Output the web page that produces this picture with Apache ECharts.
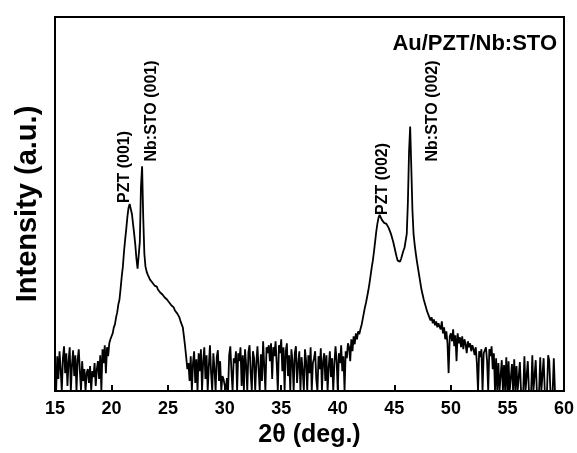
<!DOCTYPE html>
<html>
<head>
<meta charset="utf-8">
<script src="https://cdn.jsdelivr.net/npm/echarts@6/dist/echarts.min.js"></script>
<style>
  html, body { margin: 0; padding: 0; background: #fff; }
  #chart { width: 577px; height: 453px; }
</style>
</head>
<body>
<div id="chart"></div>
<script>
// scan grid: 2theta from 15.0 deg, 0.1 deg per step
const scanStart = 15.0;
const scanStep = 0.1;

// intensity (a.u.), one value per step
const noise15to20 = [
  28, 0, 35, 12, 40, 22, 0, 33, 45, 18,
  38, 5, 30, 44, 0, 26, 41, 15, 36, 0,
  31, 42, 20, 0, 30, 10, 22, 0, 18, 22,
  8, 25, 0, 20, 14, 28, 5, 22, 30, 12,
  36, 0, 42, 28, 46, 18, 44, 35, 48, 52
];
const peaks001 = [
  55, 58, 64, 67, 74, 79, 87, 92, 103, 115,
  125, 140, 152, 163, 175, 184, 188, 186, 178, 168,
  158, 147, 133, 123, 121, 150, 205, 226, 175, 138,
  125, 120, 117, 115, 112, 114, 109, 111, 106, 108,
  105, 102, 104, 99, 101, 97, 99, 94, 96, 92,
  94, 89, 91, 86, 88, 84, 81, 83, 78, 79,
  74, 70, 68, 64, 55, 45, 34, 22, 28, 10
];
const noise27to41 = [
  35, 0, 28, 40, 8, 32, 0, 38, 20, 42,
  0, 30, 44, 12, 36, 0, 25, 46, 18, 0,
  38, 22, 0, 34, 41, 10, 30, 0, 15, 12,
  14, 0, 13, 0, 36, 45, 20, 0, 33, 28,
  40, 0, 38, 30, 44, 5, 36, 0, 42, 26,
  0, 39, 46, 18, 0, 40, 33, 0, 28, 45,
  22, 0, 37, 10, 50, 25, 0, 44, 38, 46,
  30, 48, 12, 44, 35, 50, 28, 0, 46, 38,
  52, 20, 44, 0, 40, 48, 15, 36, 0, 42,
  30, 0, 38, 45, 8, 27, 40, 0, 34, 20,
  0, 42, 30, 0, 36, 18, 44, 0, 28, 33,
  40, 12, 0, 35, 22, 43, 0, 30, 38, 10,
  36, 0, 24, 40, 14, 33, 0, 27, 45, 30,
  0, 38, 28, 46, 20, 35, 0, 40, 33, 48
];
const peaks002 = [
  44, 30, 52, 40, 55, 47, 58, 52, 60, 57,
  62, 66, 72, 78, 84, 89, 95, 101, 108, 116,
  124, 131, 140, 150, 160, 168, 174, 177, 175, 172,
  170, 169, 168, 168, 166, 164, 161, 158, 154, 150,
  145, 140, 135, 131, 129, 130, 133, 137, 141, 144,
  146, 158, 190, 240, 266, 225, 182, 158, 147, 138,
  130, 123, 116, 109, 102, 97, 92, 88, 84, 80,
  77, 74, 71, 74, 68, 72, 66, 70, 64, 68
];
const tail49to59 = [
  68, 62, 70, 58, 64, 52, 60, 48, 18, 55,
  58, 50, 62, 45, 56, 30, 58, 48, 54, 44,
  55, 42, 52, 47, 38, 50, 44, 48, 40, 46,
  42, 36, 44, 28, 0, 40, 34, 42, 0, 38,
  40, 44, 30, 0, 42, 35, 45, 22, 38, 0,
  33, 0, 28, 0, 0, 31, 0, 26, 0, 34,
  0, 30, 0, 0, 27, 0, 32, 0, 25, 0,
  0, 29, 0, 0, 0, 35, 0, 0, 30, 0,
  0, 0, 36, 0, 0, 31, 0, 0, 0, 34,
  0, 0, 33, 0, 0, 0, 36, 30, 0, 0,
  0, 33, 0, 0
];

const peakLabels = ['PZT (001)', 'Nb:STO (001)', 'PZT (002)', 'Nb:STO (002)'];
const sampleName = 'Au/PZT/Nb:STO';

const intensity = [].concat(noise15to20, peaks001, noise27to41, peaks002, tail49to59);
const xrd = intensity.map((v, i) => [+(scanStart + i * scanStep).toFixed(1), v]);

const font = '"Liberation Sans", Arial, sans-serif';
const chart = echarts.init(document.getElementById('chart'));

const labelText = (text, x, y) => ({
  type: 'text',
  x: x, y: y,
  rotation: Math.PI / 2,
  style: {
    text: text, fill: '#000',
    font: 'bold 16px ' + font,
    align: 'center', verticalAlign: 'middle'
  }
});

chart.setOption({
  backgroundColor: '#fff',
  animation: false,
  grid: {
    left: 55, right: 8, top: 17, bottom: 60,
    show: true, borderColor: '#000', borderWidth: 2
  },
  xAxis: {
    type: 'value',
    min: 15, max: 60, interval: 5,
    name: '2θ (deg.)',
    nameLocation: 'middle',
    nameGap: 32,
    nameTextStyle: { fontFamily: font, fontWeight: 'bold', fontSize: 25, color: '#000' },
    axisLine: { lineStyle: { color: '#000', width: 2 } },
    axisTick: { inside: true, length: 6, lineStyle: { color: '#000', width: 2 } },
    axisLabel: { fontFamily: font, fontWeight: 'bold', fontSize: 18, color: '#000', margin: 9 },
    splitLine: { show: false }
  },
  yAxis: {
    type: 'value',
    min: 0, max: 376,
    name: 'Intensity (a.u.)',
    nameLocation: 'middle',
    nameGap: 13,
    nameTextStyle: { fontFamily: font, fontWeight: 'bold', fontSize: 29, color: '#000' },
    axisLine: { show: true, lineStyle: { color: '#000', width: 2 } },
    axisTick: { show: false },
    axisLabel: { show: false },
    splitLine: { show: false }
  },
  series: [{
    type: 'line',
    data: xrd,
    showSymbol: false,
    lineStyle: { color: '#000', width: 1.8 },
    silent: true
  }],
  graphic: [
    labelText(peakLabels[0], 125, 167),
    labelText(peakLabels[1], 152, 111),
    labelText(peakLabels[2], 383, 179),
    labelText(peakLabels[3], 433, 111),
    {
      type: 'text',
      x: 557, y: 44,
      style: {
        text: sampleName, fill: '#000',
        font: 'bold 22px ' + font,
        align: 'right', verticalAlign: 'middle'
      }
    }
  ]
});
</script>
</body>
</html>
